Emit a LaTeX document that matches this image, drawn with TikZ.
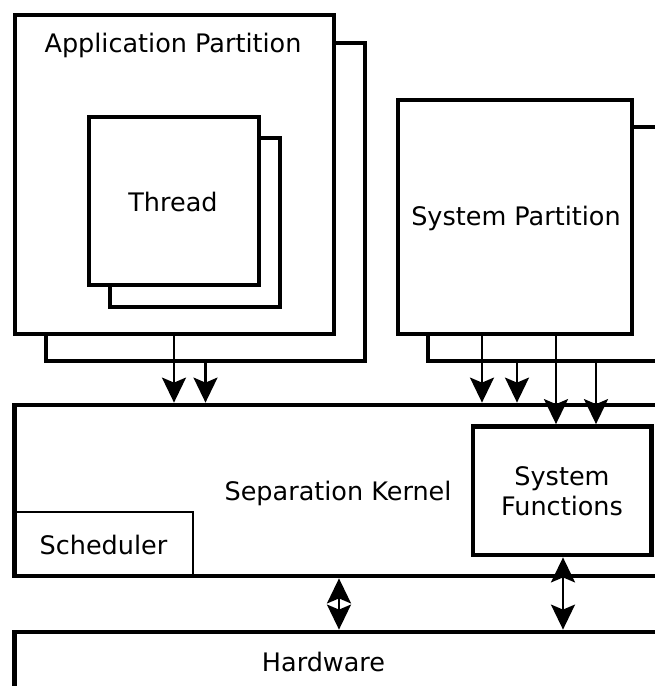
\documentclass[tikz,border=0pt]{standalone}
\usepackage{fontspec}
\setmainfont{DejaVu Sans}
\usetikzlibrary{arrows.meta,fit}
\begin{document}
\begin{tikzpicture}[x=1pt,y=-1pt,
  box/.style={draw,line width=4.8pt,fill=white,inner sep=0pt},
  thinbox/.style={draw,line width=2.2pt,inner sep=0pt},
  lbl/.style={font=\fontsize{25.5}{30}\selectfont,anchor=base,inner sep=0pt},
  arr/.style={line width=2.3pt,-{Stealth[length=25pt,width=24pt,inset=5pt]}},
  darr/.style={line width=2.3pt,{Stealth[length=25pt,width=24pt,inset=5pt]}-{Stealth[length=25pt,width=24pt,inset=5pt]}}]
\path[use as bounding box] (0,0) rectangle (655,686);
\clip (0,0) rectangle (655,686);

% Application partition (stacked) with its threads
\node[box,fit={(46,43) (365,361)}] (appback) {};
\node[box,fit={(15,15) (334,334)}] (appfront) {};
\node[lbl] (applbl) at (173,52) {Application Partition};
\node[box,fit={(110,138) (280,307)}] (thrback) {};
\node[box,fit={(89,117) (259,285)}] (thrfront) {};
\node[lbl] (thrlbl) at (173,211) {Thread};

% System partition (stacked)
\node[box,fit={(428,127) (663,361)}] (sysback) {};
\node[box,fit={(398,100) (632,334)}] (sysfront) {};
\node[lbl] (syslbl) at (516,225.5) {System Partition};

% Separation kernel with its scheduler and system functions
\node[box,fit={(14.5,405) (720,576)}] (kernel) {};
\node[lbl] (kernlbl) at (338,500.5) {Separation Kernel};
\node[thinbox,fit={(14.5,512) (193,576)}] (sched) {};
\node[lbl] (schedlbl) at (103.5,554.5) {Scheduler};
\node[box,fit={(473,426.5) (651.5,555)}] (sysfun) {};
\node[lbl,anchor=center,align=center] (sysfunlbl) at (562,491) {System\\Functions};

% Hardware
\node[box,fit={(14.5,632) (720,720)}] (hw) {};
\node[lbl] (hwlbl) at (323.5,671.5) {Hardware};

% Columns used by the connectors
\coordinate (c1) at (174,0);
\coordinate (c2) at (205.5,0);
\coordinate (c3) at (482,0);
\coordinate (c4) at (517,0);
\coordinate (c5) at (556,0);
\coordinate (c6) at (596,0);
\coordinate (c7) at (339,0);
\coordinate (c8) at (563,0);

% Partition calls into the kernel
\draw[arr] (appfront.south -| c1) -- (kernel.north -| c1);
\draw[arr] (appback.south -| c2) -- (kernel.north -| c2);
\draw[arr] (sysfront.south -| c3) -- (kernel.north -| c3);
\draw[arr] (sysback.south -| c4) -- (kernel.north -| c4);
\draw[arr] (sysfront.south -| c5) -- (sysfun.north -| c5);
\draw[arr] (sysback.south -| c6) -- (sysfun.north -| c6);

% Kernel <-> hardware
\draw[darr] (kernel.south -| c7) -- (hw.north -| c7);
\draw[darr] (sysfun.south -| c8) -- (hw.north -| c8);
\end{tikzpicture}
\end{document}
